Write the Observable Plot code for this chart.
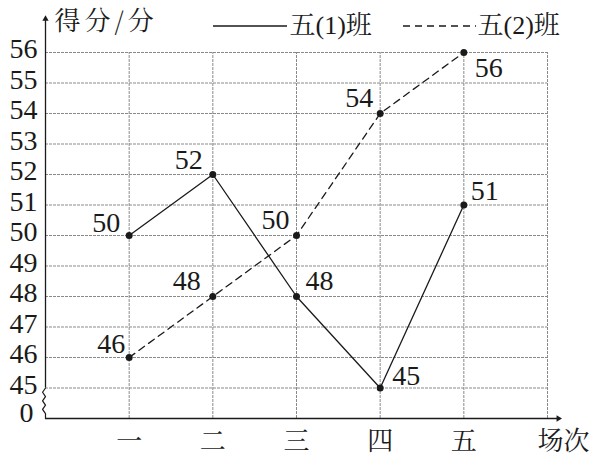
<!DOCTYPE html>
<html>
<head>
<meta charset="utf-8">
<script src="https://cdn.jsdelivr.net/npm/d3@7"></script>
<script src="https://cdn.jsdelivr.net/npm/@observablehq/plot@0.6"></script>
<style>
  html, body { margin: 0; padding: 0; background: #fff; }
  #chart svg { display: block; }
  #chart svg g.ttl text { letter-spacing: 4px; }
</style>
</head>
<body>
<div id="chart"></div>
<script>
// ---- data ----
const categories = ["一", "二", "三", "四", "五"];
const class1 = [50, 52, 48, 45, 51];   // 五(1)班
const class2 = [46, 48, 50, 54, 56];   // 五(2)班
const seriesNames = ["五(1)班", "五(2)班"];
const yTickValues = [45, 46, 47, 48, 49, 50, 51, 52, 53, 54, 55, 56];
const yZeroLabel = "0";
const yTitle = "得分/分";
const xTitle = "场次";

// label offsets (styling)
const off1 = [[-23, -12], [-24, -14], [23, -15], [26, -12], [21, -14]];
const off2 = [[-18, -13], [-26, -15], [-21, -15], [-21, -15], [25, 16]];

const ink = "#1a1a1a";
const fam = "Liberation Serif, Noto Serif CJK SC, serif";
const cjkFam = "Noto Serif CJK SC, serif";

const d1 = class1.map((v, i) => ({x: i + 1, y: v, dx: off1[i][0], dy: off1[i][1]}));
const d2 = class2.map((v, i) => ({x: i + 1, y: v, dx: off2[i][0], dy: off2[i][1]}));
const yBase = yTickValues[0] - 1;               // position of broken-axis "0"
const yTop = yTickValues[yTickValues.length - 1] + 1.1;
const xEnd = categories.length + 1;

// axis break zigzag (decoration in axis units)
const breakPts = [
  [0, yTickValues[0]], [-0.035, 44.86], [0, 44.72], [-0.035, 44.58],
  [0, 44.44], [-0.035, 44.3], [0, 44.16], [0, yBase]
];

const labelMarks = (data) => data.map(d => Plot.text([d], {
  x: "x", y: "y", text: d => String(d.y), dx: d.dx, dy: d.dy,
  fontSize: 28, fontFamily: fam, fontVariant: "normal", fill: ink, textAnchor: "middle", lineAnchor: "middle"
}));

const chart = Plot.plot({
  width: 598,
  height: 457,
  margin: 0,
  x: {domain: [0, 6], range: [45, 547], axis: null},
  y: {domain: [yBase, 56], range: [418, 52], axis: null},
  marks: [
    // grid
    Plot.ruleY(yTickValues, {x1: 0, x2: xEnd, stroke: "#8a8a8a", strokeWidth: 1, strokeDasharray: "3,1"}),
    Plot.ruleX(d3.range(1, xEnd + 1), {y1: yBase, y2: 56, stroke: "#8a8a8a", strokeWidth: 1, strokeDasharray: "3,1"}),
    // axes
    Plot.ruleX([0], {y1: yTickValues[0], y2: yTop, stroke: ink, strokeWidth: 1.3}),
    Plot.line(breakPts, {x: d => d[0], y: d => d[1], stroke: ink, strokeWidth: 1.2, curve: "linear"}),
    Plot.ruleY([yBase], {x1: 0, x2: xEnd + 0.13, stroke: ink, strokeWidth: 1.5}),
    Plot.dot([0], {x: 0, y: yTop, symbol: "triangle2", r: 3, fill: ink, stroke: "none"}),
    Plot.dot([0], {x: xEnd + 0.13, y: yBase, symbol: "triangle2", r: 3, fill: ink, stroke: "none", rotate: 90}),
    // y tick labels
    Plot.text(yTickValues, {x: 0, y: d => d, text: d => String(d), dx: -8, dy: -3, textAnchor: "end", lineAnchor: "middle", fontSize: 28, fontFamily: fam, fontVariant: "normal", fill: ink}),
    Plot.text([yZeroLabel], {x: 0, y: yBase, text: d => d, dx: -12, dy: -5, textAnchor: "end", lineAnchor: "middle", fontSize: 28, fontFamily: fam, fontVariant: "normal", fill: ink}),
    // x tick labels
    Plot.text(categories, {x: (d, i) => i + 1, y: yBase, text: d => d, dy: 23, textAnchor: "middle", lineAnchor: "middle", fontSize: 26, fontFamily: cjkFam, fill: ink}),
    Plot.text([xTitle], {x: xEnd, y: yBase, text: d => d, dx: 16, dy: 23, textAnchor: "middle", lineAnchor: "middle", fontSize: 26, fontFamily: cjkFam, fill: ink}),
    // y title
    Plot.text([yTitle], {frameAnchor: "top-left", text: d => d, dx: 54, dy: 21, textAnchor: "start", lineAnchor: "middle", fontSize: 26, fontFamily: cjkFam, fill: ink, className: "ttl"}),
    // series
    Plot.line(d1, {x: "x", y: "y", stroke: ink, strokeWidth: 1.3}),
    Plot.line(d2, {x: "x", y: "y", stroke: ink, strokeWidth: 1.3, strokeDasharray: "7,5"}),
    Plot.dot(d1, {x: "x", y: "y", r: 3.5, fill: ink, stroke: "none"}),
    Plot.dot(d2, {x: "x", y: "y", r: 3.5, fill: ink, stroke: "none"}),
    ...labelMarks(d1),
    ...labelMarks(d2),
    // legend texts
    Plot.text([seriesNames[0]], {frameAnchor: "top-left", text: d => d, dx: 289, dy: 25, textAnchor: "start", lineAnchor: "middle", fontSize: 26, fontFamily: fam, fill: ink}),
    Plot.text([seriesNames[1]], {frameAnchor: "top-left", text: d => d, dx: 477, dy: 25, textAnchor: "start", lineAnchor: "middle", fontSize: 26, fontFamily: fam, fill: ink})
  ]
});

// legend swatches
const svg = d3.select(chart);
svg.append("line").attr("x1", 213).attr("x2", 287).attr("y1", 26).attr("y2", 26)
  .attr("stroke", ink).attr("stroke-width", 1.3);
svg.append("line").attr("x1", 403).attr("x2", 476).attr("y1", 26).attr("y2", 26)
  .attr("stroke", ink).attr("stroke-width", 1.3).attr("stroke-dasharray", "7,5");

// force font on every text element inline
svg.selectAll("text").each(function() {
  const g = this.parentNode;
  const f = g.getAttribute("font-family") || fam;
  this.style.fontFamily = f;
  this.style.fontVariantNumeric = "normal";
});

document.getElementById("chart").appendChild(chart);
</script>
</body>
</html>
